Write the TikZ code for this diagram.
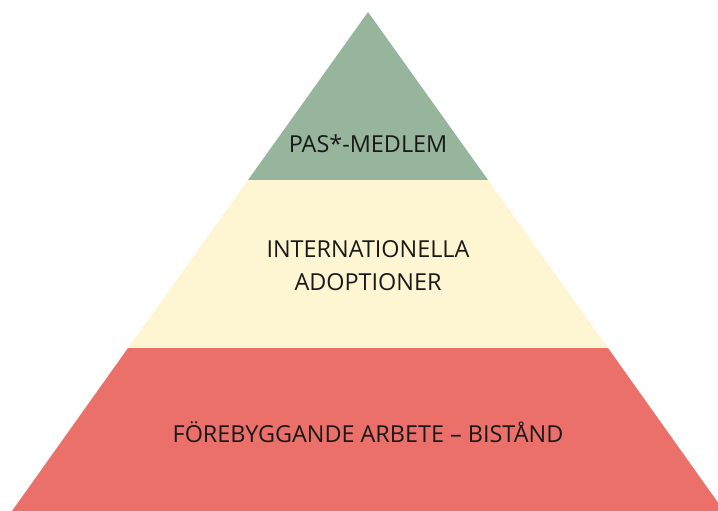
\documentclass[tikz,border=0pt]{standalone}
\usepackage{fontspec}
\setmainfont{Open Sans}
\usepackage{tikz}
\usetikzlibrary{positioning}

\definecolor{topgreen}{HTML}{97B49C}
\definecolor{midyellow}{HTML}{FEF6D3}
\definecolor{baseRed}{HTML}{EC706A}

\begin{document}
\begin{tikzpicture}[x=1pt,y=-1pt,
			band/.style={draw=none},
			labelnode/.style={font=\fontsize{23.4}{33}\selectfont, text=black!90, align=center},
		]

			\useasboundingbox (0,0) rectangle (718,511);
			\clip (0,0) rectangle (718,511);

			%Bands
			\fill[band, topgreen]	(368,12) -- (488,180) -- (248,180) -- cycle;
			\fill[band, midyellow]	(248,180) -- (488,180) -- (608,348) -- (128,348) -- cycle;
			\fill[band, baseRed]	(128,348) -- (608,348) -- (724,511) -- (12,511) -- cycle;

			%Labels
			\node[labelnode]	(pas)	at (368,144)	{PAS*-MEDLEM};
			\node[labelnode]	(adopt)	at (368,266)	{INTERNATIONELLA\\ADOPTIONER};
			\node[labelnode]	(bistand)	at (368,432)	{FÖREBYGGANDE ARBETE – BISTÅND};

		\end{tikzpicture}
\end{document}
